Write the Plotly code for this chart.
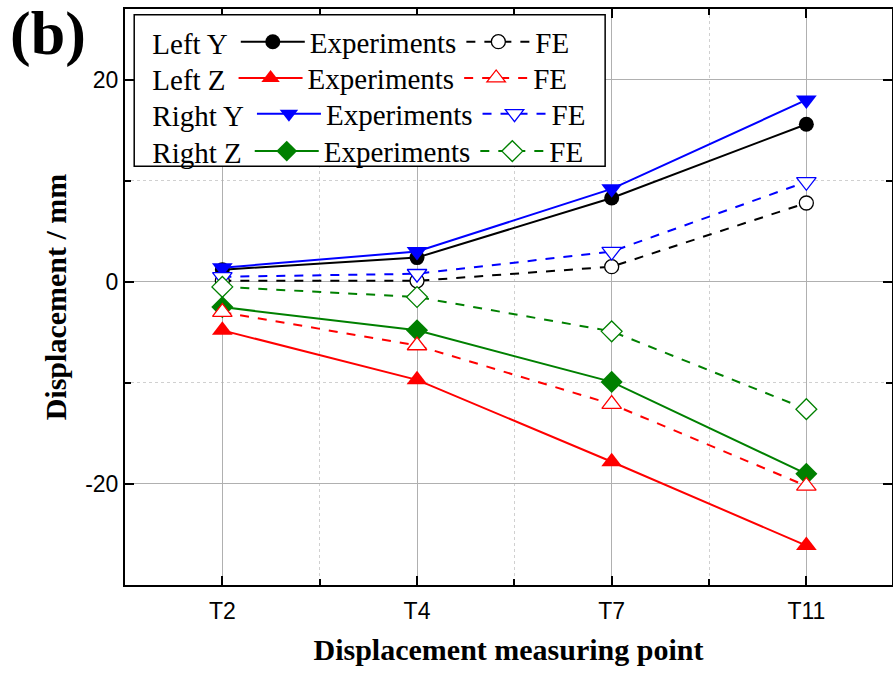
import plotly.graph_objects as go

points = ["T2", "T4", "T7", "T11"]
xpos = [0, 1, 2, 3]
ytick_vals = [-20, 0, 20]
ytick_text = ["-20", "0", "20"]

left_y_exp = [1.2, 2.4, 8.3, 15.6]
left_y_fe = [0.1, 0.1, 1.5, 7.8]
left_z_exp = [-4.8, -9.7, -17.8, -26.1]
left_z_fe = [-3.0, -6.3, -12.1, -20.2]
right_y_exp = [1.4, 3.0, 9.2, 18.0]
right_y_fe = [0.5, 0.8, 3.0, 9.9]
right_z_exp = [-2.5, -4.8, -9.9, -19.0]
right_z_fe = [-0.5, -1.5, -4.9, -12.6]

series = [
    ("Left Y", "black", "circle", 15, left_y_exp, left_y_fe, "legend"),
    ("Left Z", "red", "triangle-up", 18, left_z_exp, left_z_fe, "legend2"),
    ("Right Y", "blue", "triangle-down", 18, right_y_exp, right_y_fe, "legend3"),
    ("Right Z", "green", "diamond", 17, right_z_exp, right_z_fe, "legend4"),
]

fig = go.Figure()
fe_traces = []
exp_traces = []
for name, col, sym, sz, exp, fe, lg in series:
    fe_traces.append(go.Scatter(
        x=xpos, y=fe, mode="lines+markers", name="FE", legend=lg,
        line=dict(color=col, width=2, dash="dash"),
        marker=dict(symbol=sym, size=sz - 1, color="white", line=dict(color=col, width=1.3)),
    ))
    exp_traces.append(go.Scatter(
        x=xpos, y=exp, mode="lines+markers", name="Experiments", legend=lg,
        line=dict(color=col, width=2),
        marker=dict(symbol=sym, size=sz, color=col, line=dict(width=0)),
    ))
for t in fe_traces + exp_traces:
    fig.add_trace(t)

# Experiments first in each legend row
fig.data = tuple(list(fig.data[4:]) + list(fig.data[:4]))

legend_font = dict(family="Liberation Serif", size=29, color="black")
rows_y = [0.943, 0.880, 0.818, 0.753]
lay = {}
for i, s in enumerate(series):
    name, lg = s[0], s[6]
    lay[lg] = dict(
        x=0.033, xanchor="left", y=rows_y[i], yanchor="middle",
        orientation="h", bgcolor="rgba(0,0,0,0)", borderwidth=0,
        font=legend_font, traceorder="normal",
        title=dict(text=name, side="left", font=legend_font),
        itemwidth=64, tracegroupgap=0,
    )
fig.update_layout(**lay)

fig.add_shape(type="rect", xref="paper", yref="paper",
              x0=0.012, x1=0.626, y0=0.727, y1=0.990,
              line=dict(color="black", width=1.5), fillcolor="white", layer="above")

fig.add_annotation(text="<b>(b)</b>", xref="paper", yref="paper", x=-0.152, y=1.02,
                   xanchor="left", yanchor="top", showarrow=False,
                   font=dict(family="Liberation Serif", size=62, color="black"))

axis_common = dict(
    showline=True, linecolor="black", linewidth=2, mirror="ticks",
    ticks="inside", ticklen=9, tickwidth=2, tickcolor="black",
    showgrid=True, gridcolor="#b0b0b0", gridwidth=1, zeroline=False,
    tickfont=dict(family="Liberation Sans", size=23, color="black"),
    automargin=False,
)

fig.update_xaxes(
    **axis_common, range=[-0.5, 3.44], tickvals=xpos, ticktext=points,
    ticklabelstandoff=4,
    minor=dict(tick0=0.5, dtick=1, ticks="inside", ticklen=6, tickwidth=2, tickcolor="black",
               showgrid=True, gridcolor="#d0d0d0", griddash="dot", gridwidth=1),
    title=dict(text="<b>Displacement measuring point</b>", standoff=16,
               font=dict(family="Liberation Serif", size=30, color="black")),
)
fig.update_yaxes(
    **axis_common, range=[-30, 27], tickvals=ytick_vals, ticktext=ytick_text,
    minor=dict(tickvals=[-10, 10], ticks="inside", ticklen=6, tickwidth=2, tickcolor="black",
               showgrid=True, gridcolor="#d0d0d0", griddash="dot", gridwidth=1),
    title=dict(text="<b>Displacement / mm</b>", standoff=10,
               font=dict(family="Liberation Serif", size=30, color="black")),
)

fig.update_layout(
    width=893, height=673, margin=dict(l=125, r=1, t=9, b=88),
    plot_bgcolor="white", paper_bgcolor="white", showlegend=True,
)

fig.write_html("out.html", config={"displayModeBar": False},
               post_script="document.body.style.margin='0px';")
